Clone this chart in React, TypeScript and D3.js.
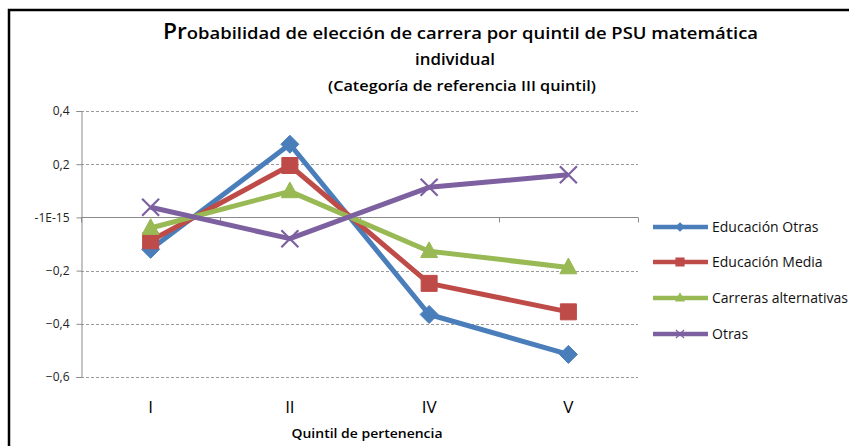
import React, { useEffect, useRef } from "react";
import * as d3 from "d3";

const quintiles = ["I", "II", "IV", "V"];
const educacionOtras = [-0.12, 0.275, -0.365, -0.515];
const educacionMedia = [-0.088, 0.195, -0.248, -0.355];
const carrerasAlternativas = [-0.04, 0.098, -0.127, -0.188];
const otras = [0.038, -0.08, 0.113, 0.16];
const yTicks = [0.4, 0.2, 0, -0.2, -0.4, -0.6];
const seriesNames = ["Educación Otras", "Educación Media", "Carreras alternativas", "Otras"];
const seriesColors = ["#4a7ebb", "#be4b48", "#98b954", "#7d60a0"];
const markerTypes = ["diamond", "square", "triangle", "x"];

const W = 849;
const H = 446;
const FONT = "'Open Sans', 'Noto Sans', sans-serif";

function markerPath(type: string, r: number) {
  if (type === "diamond") return `M0,${-r}L${r},0L0,${r}L${-r},0Z`;
  if (type === "square") return `M${-r},${-r}H${r}V${r}H${-r}Z`;
  if (type === "triangle") return `M0,${-r * 1.1}L${r},${r * 0.75}L${-r},${r * 0.75}Z`;
  return `M${-r},${-r}L${r},${r}M${r},${-r}L${-r},${r}`;
}

export default function App() {
  const svgRef = useRef<SVGSVGElement>(null);

  useEffect(() => {
    const svg = d3.select(svgRef.current);
    svg.selectAll("*").remove();

    const left = 81;
    const right = 638;
    const top = 111;
    const bottom = 377;

    const x = d3.scaleBand().domain(quintiles).range([left, right]);
    const y = d3.scaleLinear().domain([-0.6, 0.4]).range([bottom, top]);

    svg.append("rect").attr("width", W).attr("height", H).attr("fill", "#fff");

    // outer frame
    svg
      .append("path")
      .attr("d", `M9,${H + 5}V10H${W + 5}`)
      .attr("fill", "none")
      .attr("stroke", "#000")
      .attr("stroke-width", 2.5);

    // titles
    const title = svg
      .append("text")
      .attr("x", 163)
      .attr("y", 39)
      .attr("font-family", FONT)
      .attr("font-weight", 600)
      .attr("fill", "#000")
      .attr("textLength", 595)
      .attr("lengthAdjust", "spacingAndGlyphs");
    title.append("tspan").attr("font-size", 21).text("Pr");
    title
      .append("tspan")
      .attr("font-size", 17)
      .text("obabilidad de elección de carrera por quintil de PSU matemática");

    svg
      .append("text")
      .attr("x", 455)
      .attr("y", 65)
      .attr("text-anchor", "middle")
      .attr("font-family", FONT)
      .attr("font-weight", 600)
      .attr("font-size", 17)
      .attr("textLength", 80)
      .attr("lengthAdjust", "spacingAndGlyphs")
      .text("individual");

    svg
      .append("text")
      .attr("x", 462)
      .attr("y", 91)
      .attr("text-anchor", "middle")
      .attr("font-family", FONT)
      .attr("font-weight", 600)
      .attr("font-size", 14)
      .attr("textLength", 268)
      .attr("lengthAdjust", "spacingAndGlyphs")
      .text("(Categoría de referencia III quintil)");

    // gridlines
    const g = svg.append("g");
    g.selectAll(".grid")
      .data(yTicks.filter((t) => t !== 0))
      .enter()
      .append("line")
      .attr("x1", left)
      .attr("x2", right)
      .attr("y1", (d) => Math.round(y(d)) + 0.5)
      .attr("y2", (d) => Math.round(y(d)) + 0.5)
      .attr("stroke", "#9a9a9a")
      .attr("stroke-dasharray", "3,2");

    // y axis
    const yAxis = svg
      .append("g")
      .attr("transform", `translate(${left + 0.5},0)`)
      .call(
        d3
          .axisLeft(y)
          .tickValues(yTicks)
          .tickSize(5)
          .tickPadding(7)
          .tickFormat((d) => (d === 0 ? "-1E-15" : d3.format(".1f")(d as number).replace(".", ",")))
      );
    yAxis.select(".domain").attr("stroke", "#8a8a8a");
    yAxis.selectAll(".tick line").attr("stroke", "#8a8a8a");
    yAxis
      .selectAll(".tick text")
      .attr("font-family", FONT)
      .attr("font-size", 12)
      .attr("fill", "#222");

    // category axis at zero
    const y0 = Math.round(y(0)) + 0.5;
    svg
      .append("line")
      .attr("x1", left)
      .attr("x2", right)
      .attr("y1", y0)
      .attr("y2", y0)
      .attr("stroke", "#8a8a8a");
    svg
      .selectAll(".xtick")
      .data(d3.range(quintiles.length + 1))
      .enter()
      .append("line")
      .attr("x1", (i) => Math.round(left + i * x.bandwidth()) + 0.5)
      .attr("x2", (i) => Math.round(left + i * x.bandwidth()) + 0.5)
      .attr("y1", y0)
      .attr("y2", y0 + 5)
      .attr("stroke", "#8a8a8a");

    svg
      .selectAll(".xlabel")
      .data(quintiles)
      .enter()
      .append("text")
      .attr("x", (d) => (x(d) as number) + x.bandwidth() / 2)
      .attr("y", 413)
      .attr("text-anchor", "middle")
      .attr("font-family", FONT)
      .attr("font-size", 17)
      .attr("fill", "#000")
      .text((d) => d);

    svg
      .append("text")
      .attr("x", 367)
      .attr("y", 438)
      .attr("text-anchor", "middle")
      .attr("font-family", FONT)
      .attr("font-weight", 600)
      .attr("font-size", 13)
      .attr("textLength", 151)
      .attr("lengthAdjust", "spacingAndGlyphs")
      .text("Quintil de pertenencia");

    // series
    const allSeries = [educacionOtras, educacionMedia, carrerasAlternativas, otras];
    const line = d3
      .line<number>()
      .x((_, i) => (x(quintiles[i]) as number) + x.bandwidth() / 2)
      .y((d) => y(d));

    allSeries.forEach((values, s) => {
      const color = seriesColors[s];
      const sg = svg.append("g");
      sg.append("path")
        .attr("d", line(values))
        .attr("fill", "none")
        .attr("stroke", color)
        .attr("stroke-width", 5)
        .attr("stroke-linejoin", "round");
      const type = markerTypes[s];
      const r = type === "diamond" ? 9 : type === "square" ? 8 : 8.5;
      sg.selectAll("path.m")
        .data(values)
        .enter()
        .append("path")
        .attr("class", "m")
        .attr(
          "transform",
          (d, i) => `translate(${(x(quintiles[i]) as number) + x.bandwidth() / 2},${y(d)})`
        )
        .attr("d", markerPath(type, r))
        .attr("fill", type === "x" ? "none" : color)
        .attr("stroke", color)
        .attr("stroke-width", type === "x" ? 2.2 : 1);
    });

    // legend
    const legend = svg.append("g");
    const rows = [227, 262, 298, 334];
    seriesNames.forEach((name, s) => {
      const color = seriesColors[s];
      const ly = rows[s];
      legend
        .append("line")
        .attr("x1", 653)
        .attr("x2", 708)
        .attr("y1", ly)
        .attr("y2", ly)
        .attr("stroke", color)
        .attr("stroke-width", 4.5);
      legend
        .append("path")
        .attr("transform", `translate(680,${ly})`)
        .attr("d", markerPath(markerTypes[s], 4))
        .attr("fill", markerTypes[s] === "x" ? "none" : color)
        .attr("stroke", color)
        .attr("stroke-width", 1.2);
      legend
        .append("text")
        .attr("x", 712)
        .attr("y", ly + 5)
        .attr("font-family", FONT)
        .attr("font-size", 14)
        .attr("fill", "#111")
        .text(name);
    });
  }, []);

  return (
    <svg
      ref={svgRef}
      width={W}
      height={H}
      style={{ position: "absolute", left: 0, top: 0, display: "block" }}
    />
  );
}
